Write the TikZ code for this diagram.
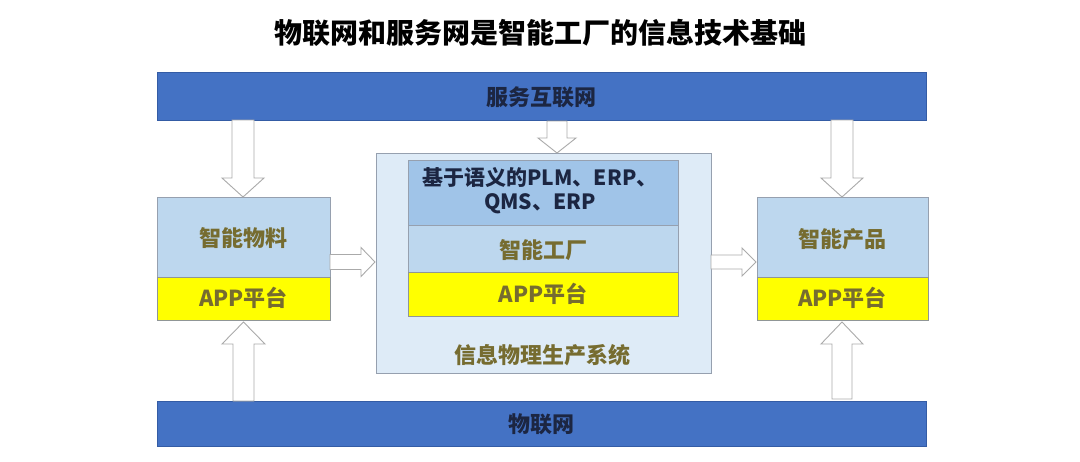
\documentclass[tikz,border=0pt]{standalone}
\usepackage{fontspec}
\setmainfont{Noto Sans CJK SC}
\usetikzlibrary{calc}
\definecolor{barblue}{RGB}{68,114,196}
\definecolor{bardark}{RGB}{52,92,165}
\definecolor{lightbox}{RGB}{189,215,238}
\definecolor{paleback}{RGB}{222,235,247}
\definecolor{midblue}{RGB}{160,196,232}
\definecolor{appyellow}{RGB}{255,255,0}
\definecolor{olivetext}{RGB}{118,108,48}
\definecolor{navytext}{RGB}{28,38,66}
\definecolor{edgegray}{RGB}{150,160,175}
\definecolor{arrowgray}{RGB}{170,170,170}
\tikzset{
  bar/.style={draw=bardark, fill=barblue, line width=0.8pt, anchor=north west, inner sep=0pt,
    font=\fontsize{22}{26}\selectfont\bfseries, text=navytext},
  lbox/.style={draw=edgegray, fill=lightbox, line width=0.8pt, anchor=north west, inner sep=0pt,
    font=\fontsize{22}{26}\selectfont\bfseries, text=olivetext},
  ybox/.style={draw=edgegray!80!olivetext, fill=appyellow, line width=0.8pt, anchor=north west, inner sep=0pt,
    font=\fontsize{22}{26}\selectfont\bfseries, text=olivetext},
  outerbox/.style={draw=edgegray, fill=paleback, line width=0.8pt, anchor=north west, inner sep=0pt},
  semantic/.style={draw=edgegray, fill=midblue, line width=0.8pt, anchor=north west, inner sep=0pt,
    font=\fontsize{21}{25}\selectfont\bfseries, text=navytext, align=center},
  label/.style={font=\fontsize{22}{26}\selectfont\bfseries, text=olivetext, inner sep=0pt},
  barrow/.style={draw=arrowgray, fill=white, line width=0.9pt, line join=miter},
}
% vertical block arrow: #1 start point, #2 tip point, shaft half width, head half width, head length
\newcommand{\vblockarrow}[5]{%
  \draw[barrow] let \p1=(#1), \p2=(#2), \n1={sign(\y2-\y1)} in
    (\x1-#3,\y1) -- (\x1+#3,\y1) -- (\x1+#3,\y2-\n1*#5) -- (\x1+#4,\y2-\n1*#5) --
    (\x1,\y2) -- (\x1-#4,\y2-\n1*#5) -- (\x1-#3,\y2-\n1*#5) -- cycle;}
\newcommand{\hblockarrow}[5]{%
  \draw[barrow] let \p1=(#1), \p2=(#2) in
    (\x1,\y1+#3) -- (\x2-#5,\y1+#3) -- (\x2-#5,\y1+#4) -- (\x2,\y1) --
    (\x2-#5,\y1-#4) -- (\x2-#5,\y1-#3) -- (\x1,\y1-#3) -- cycle;}
\begin{document}
\begin{tikzpicture}[x=1pt,y=-1pt]
\useasboundingbox[fill=white] (0,0) rectangle (1080,461);

\node[font=\fontsize{28}{32}\selectfont\bfseries, inner sep=0pt] (title) at (540,33) {物联网和服务网是智能工厂的信息技术基础};

\node[bar, minimum width=769pt, minimum height=48pt] (svc) at (157,72) {};
\node[font=\fontsize{22}{26}\selectfont\bfseries, text=navytext, inner sep=0pt] (svct) at (541,97) {服务互联网};
\node[bar, minimum width=769pt, minimum height=45pt] (iot) at (157,401) {};
\node[font=\fontsize{22}{26}\selectfont\bfseries, text=navytext, inner sep=0pt] (iott) at (541,424) {物联网};

% left
\node[lbox, minimum width=173pt, minimum height=80pt] (mat) at (157,197) {};
\node[label] (matt) at (243.5,238) {智能物料};
\node[ybox, minimum width=173pt, minimum height=43pt] (matapp) at (157,277) {};
\node[label] (matappt) at (243.5,298) {APP平台};

% right
\node[lbox, minimum width=171pt, minimum height=80pt] (prod) at (757,197) {};
\node[label] (prodt) at (842.5,239) {智能产品};
\node[ybox, minimum width=171pt, minimum height=43pt] (prodapp) at (757,277) {};
\node[label] (prodappt) at (842.5,298) {APP平台};

% center
\node[outerbox, minimum width=335pt, minimum height=220pt] (cps) at (376,153) {};
\node[semantic, minimum width=270pt, minimum height=65pt] (sem) at (408,160) {};
\node[font=\fontsize{21}{25}\selectfont\bfseries, text=navytext, inner sep=0pt, align=center] (semt) at (540,191) {基于语义的PLM、ERP、\\[-1pt]QMS、ERP};
\node[lbox, minimum width=270pt, minimum height=47pt] (fac) at (408,225) {};
\node[label] (fact) at (543,250) {智能工厂};
\node[ybox, minimum width=270pt, minimum height=44pt] (facapp) at (408,272) {};
\node[label] (facappt) at (543,294) {APP平台};
\node[label] (cpst) at (542,355) {信息物理生产系统};

% arrows
\coordinate (d1s) at (243,120); \coordinate (d1e) at (243,197);
\coordinate (d2s) at (557,121); \coordinate (d2e) at (557,153);
\coordinate (d3s) at (842,120); \coordinate (d3e) at (842,197);
\vblockarrow{d1s}{d1e}{11pt}{21pt}{19pt}
\vblockarrow{d2s}{d2e}{10pt}{19pt}{15pt}
\vblockarrow{d3s}{d3e}{11pt}{21pt}{19pt}
\coordinate (u1s) at (243.5,401); \coordinate (u1e) at (243.5,322);
\coordinate (u2s) at (842,399); \coordinate (u2e) at (842,322);
\vblockarrow{u1s}{u1e}{10.5pt}{21.5pt}{22pt}
\vblockarrow{u2s}{u2e}{10pt}{21pt}{22pt}
\coordinate (h1s) at (330,262); \coordinate (h1e) at (375,262);
\coordinate (h2s) at (711,262); \coordinate (h2e) at (756,262);
\hblockarrow{h1s}{h1e}{7.5pt}{14.5pt}{14pt}
\hblockarrow{h2s}{h2e}{7pt}{14pt}{14pt}
\end{tikzpicture}
\end{document}
